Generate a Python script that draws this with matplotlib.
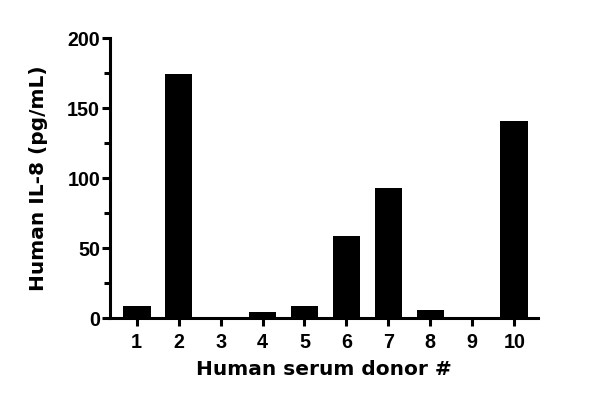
import numpy as np
import matplotlib
matplotlib.use('Agg')
import matplotlib.pyplot as plt
from matplotlib.ticker import MultipleLocator
from matplotlib.font_manager import FontProperties

# Datos
donantes = [1, 2, 3, 4, 5, 6, 7, 8, 9, 10]
il8 = [8.4, 174, 0, 3.7, 8.4, 58.4, 92.5, 5.6, 0, 140.6]

fig = plt.figure(figsize=(6, 4.06), dpi=100)
ax = fig.add_axes([0.183, 0.2155, 0.714, 0.6895])

ax.bar(donantes, il8, width=0.66, color='black')

ax.set_xlim(0.36, 10.57)
ax.set_ylim(0, 200)
ax.yaxis.set_major_locator(MultipleLocator(50))
ax.yaxis.set_minor_locator(MultipleLocator(25))
ax.set_xticks(donantes)

for s in ['top', 'right']:
    ax.spines[s].set_visible(False)
for s in ['left', 'bottom']:
    ax.spines[s].set_linewidth(2.2)

ax.tick_params(axis='both', which='major', width=2.2, length=5.5)
ax.tick_params(axis='x', pad=5)
ax.tick_params(axis='y', pad=1.5)
ax.tick_params(axis='y', which='minor', width=2.2, length=4)

fuente_ticks = FontProperties(family='Liberation Sans', weight='bold', size=14.2)
for lab in ax.get_xticklabels() + ax.get_yticklabels():
    lab.set_fontproperties(fuente_ticks)

ax.set_xlabel('Human serum donor #', family='DejaVu Sans', weight='bold', fontsize=14.5, labelpad=6)
ax.set_ylabel('Human IL-8 (pg/mL)', family='DejaVu Sans', weight='bold', fontsize=14.5, labelpad=14)

fig.savefig('out.png', dpi=100)
